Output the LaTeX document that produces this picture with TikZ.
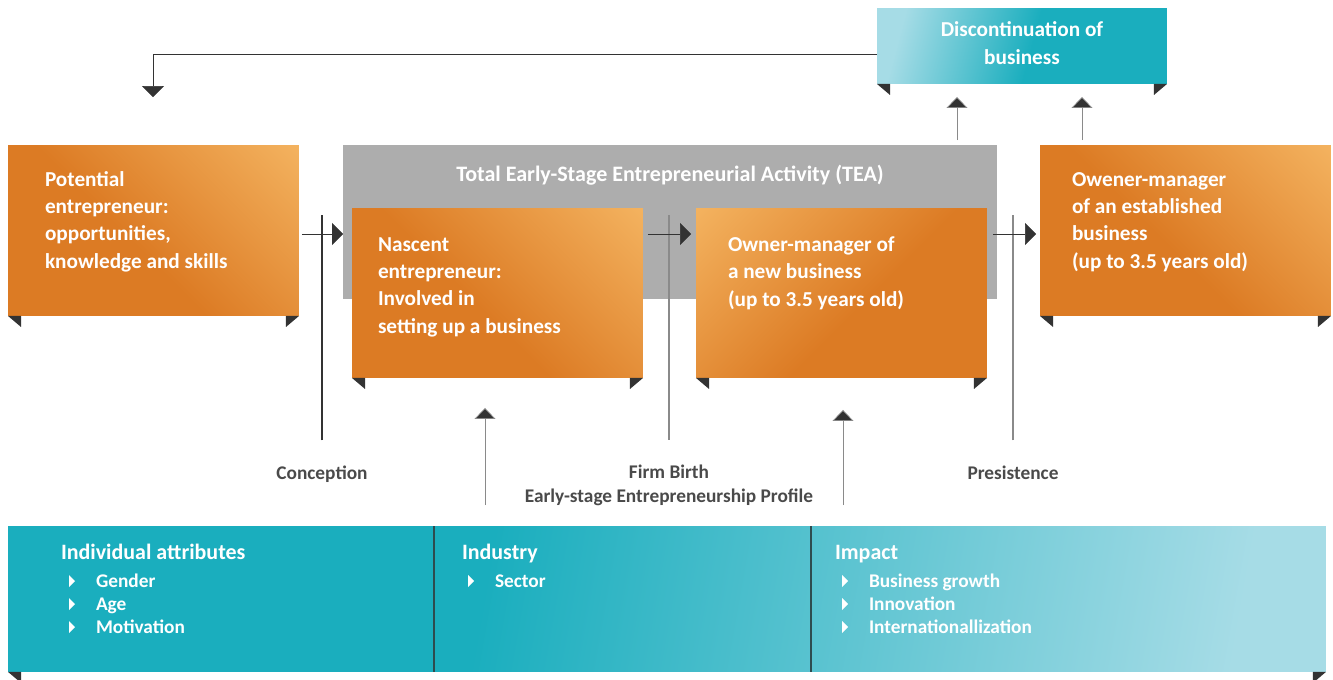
\documentclass[tikz,border=0pt]{standalone}
\usepackage{fontspec}
\setmainfont{Carlito}
\usepackage{xcolor}
\usepackage{tikz}
\usetikzlibrary{arrows.meta}

\definecolor{orDark}{HTML}{DC7B24}
\definecolor{orLight}{HTML}{F5B663}
\definecolor{tealDark}{HTML}{1AAEBE}
\definecolor{tealLight}{HTML}{A6DCE6}
\definecolor{teaGray}{HTML}{ADADAD}
\definecolor{inkGray}{HTML}{4A4A4A}
\definecolor{lineGray}{HTML}{8A8A8A}
\definecolor{tipGray}{HTML}{333333}

\pgfdeclareverticalshading{orFade}{100bp}{color(0bp)=(orDark); color(45bp)=(orDark); color(88bp)=(orLight); color(100bp)=(orLight)}
\pgfdeclarehorizontalshading{discFade}{100bp}{color(0bp)=(tealLight); color(25bp)=(tealLight); color(52bp)=(tealDark); color(100bp)=(tealDark)}
\pgfdeclarehorizontalshading{bandFade}{100bp}{color(0bp)=(tealDark); color(42bp)=(tealDark); color(75bp)=(tealLight); color(100bp)=(tealLight)}

\begin{document}
\begin{tikzpicture}[x=0.02cm, y=-0.02cm]
  \useasboundingbox (0,0) rectangle (1333,680);
  \begin{scope}[every node/.style={inner sep=0, outer sep=0},
      orbox/.style={minimum width=5.82cm, minimum height=3.42cm, shade, shading=orFade, shading angle=-45},
      fold/.style={fill=tipGray},
      boxtext/.style={anchor=base west, align=left, text=white, font=\fontsize{12.1}{15.4}\bfseries\selectfont},
      stage/.style={anchor=base, align=center, text=inkGray, font=\fontsize{11}{13.6}\bfseries\selectfont},
      head/.style={anchor=base west, text=white, font=\fontsize{12.5}{16}\bfseries\selectfont},
      item/.style={anchor=base west, text=white, font=\fontsize{11}{14}\bfseries\selectfont},
      flow/.style={draw=tipGray, -{Triangle[width=0.44cm, length=0.22cm, fill=tipGray]}},
      rise/.style={draw=lineGray, -{Triangle[width=0.42cm, length=0.22cm, fill=tipGray]}},
      guide/.style={draw=lineGray, line width=0.6pt}]
    % boxes
    \node [minimum width=13.08cm, minimum height=3.08cm, fill=teaGray] (tea) at (670,222) {};
    \node [orbox] (pot) at (153.5,230.5) {};
    \node [orbox, minimum height=3.4cm] (nas) at (497.5,293) {};
    \node [orbox, minimum height=3.4cm, shading angle=45] (own) at (841.5,293) {};
    \node [orbox] (est) at (1185.5,230.5) {};
    \node [minimum width=5.8cm, minimum height=1.52cm, shade, shading=discFade, shading angle=-15] (disc) at (1022,46) {};
    \node [minimum width=26.36cm, minimum height=2.92cm, shade, shading=bandFade, shading angle=-10] (band) at (667,599) {};
    \foreach \b in {pot,nas,own,est,disc,band} {
      \fill [fold] (\b.south west) -- ++(13,0) -- ++(0,11) -- cycle;
      \fill [fold] (\b.south east) -- ++(-13,0) -- ++(0,11) -- cycle;
    }
    % texts (anchored at the last baseline)
    \node [anchor=base, text=white, font=\fontsize{12.55}{15.4}\bfseries\selectfont] (teaT) at (670,181) {Total Early-Stage Entrepreneurial Activity (TEA)};
    \node [boxtext] (potT) at (45,268) {Potential\\entrepreneur:\\opportunities,\\knowledge and skills};
    \node [boxtext] (nasT) at (378,333) {Nascent\\entrepreneur:\\Involved in\\setting up a business};
    \node [boxtext] (ownT) at (728,306) {Owner-manager of\\a new business\\(up to 3.5 years old)};
    \node [boxtext] (estT) at (1072,268) {Owener-manager\\of an established\\business\\(up to 3.5 years old)};
    \node [boxtext, anchor=base, align=center] (discT) at (1022,64) {Discontinuation of\\business};
    % stages
    \coordinate (guideTop) at (0,215);
    \node [stage] (concep) at (322,479) {Conception};
    \node [stage] (birth) at (669,502) {Firm Birth\\Early-stage Entrepreneurship Profile};
    \node [stage] (persist) at (1013,479) {Presistence};
    \draw [guide, draw=tipGray] (concep.north) ++(0,-25) -- (concep.north |- guideTop);
    \draw [guide] (birth.north) ++(0,-25) -- (birth.north |- guideTop);
    \draw [guide] (persist.north) ++(0,-25) -- (persist.north |- guideTop);
    % flows
    \coordinate (row) at (0,234);
    \draw [flow, shorten <=0.06cm] (pot.east |- row) -- (tea.west |- row);
    \draw [flow, shorten <=0.1cm, shorten >=0.1cm] (nas.east |- row) -- (own.west |- row);
    \draw [flow, shorten <=0.12cm, shorten >=0.08cm] (own.east |- row) -- (est.west |- row);
    \coordinate (upA) at (957,0);
    \coordinate (upB) at (1082,0);
    \draw [rise, shorten <=0.1cm, shorten >=0.26cm] (tea.north -| upA) -- (disc.south -| upA);
    \draw [rise, shorten <=0.1cm, shorten >=0.26cm] (est.north -| upB) -- (disc.south -| upB);
    \coordinate (back) at (153,54);
    \draw [flow] (disc.west |- back) -- (back) -- ++(0,43);
    \coordinate (riseA) at (485,0);
    \coordinate (riseB) at (843,0);
    \draw [rise, shorten <=0.42cm, shorten >=0.6cm] (band.north -| riseA) -- (nas.south -| riseA);
    \draw [rise, shorten <=0.42cm, shorten >=0.64cm] (band.north -| riseB) -- (own.south -| riseB);
    % band
    \coordinate (divA) at (434,0);
    \coordinate (divB) at (811,0);
    \foreach \d in {divA,divB} {\draw [draw=tipGray!80!tealDark, line width=0.6pt] (band.north -| \d) -- (band.south -| \d);}
    \node [head] (indH) at (61,559) {Individual attributes};
    \node [head] (insH) at (462,559) {Industry};
    \node [head] (impH) at (835,559) {Impact};
    \foreach \t/\x/\y [count=\i] in {Gender/96/587, Age/96/610, Motivation/96/633, Sector/495/587, Business growth/869/587, Innovation/869/610, Internationallization/869/633} {
      \node [item] (it\i) at (\x,\y) {\t};
      \fill [white] ([xshift=-0.54cm]it\i.base west) -- ++(0,-12) -- ++(6,6) -- cycle;
    }
  \end{scope}
\end{tikzpicture}
\end{document}
